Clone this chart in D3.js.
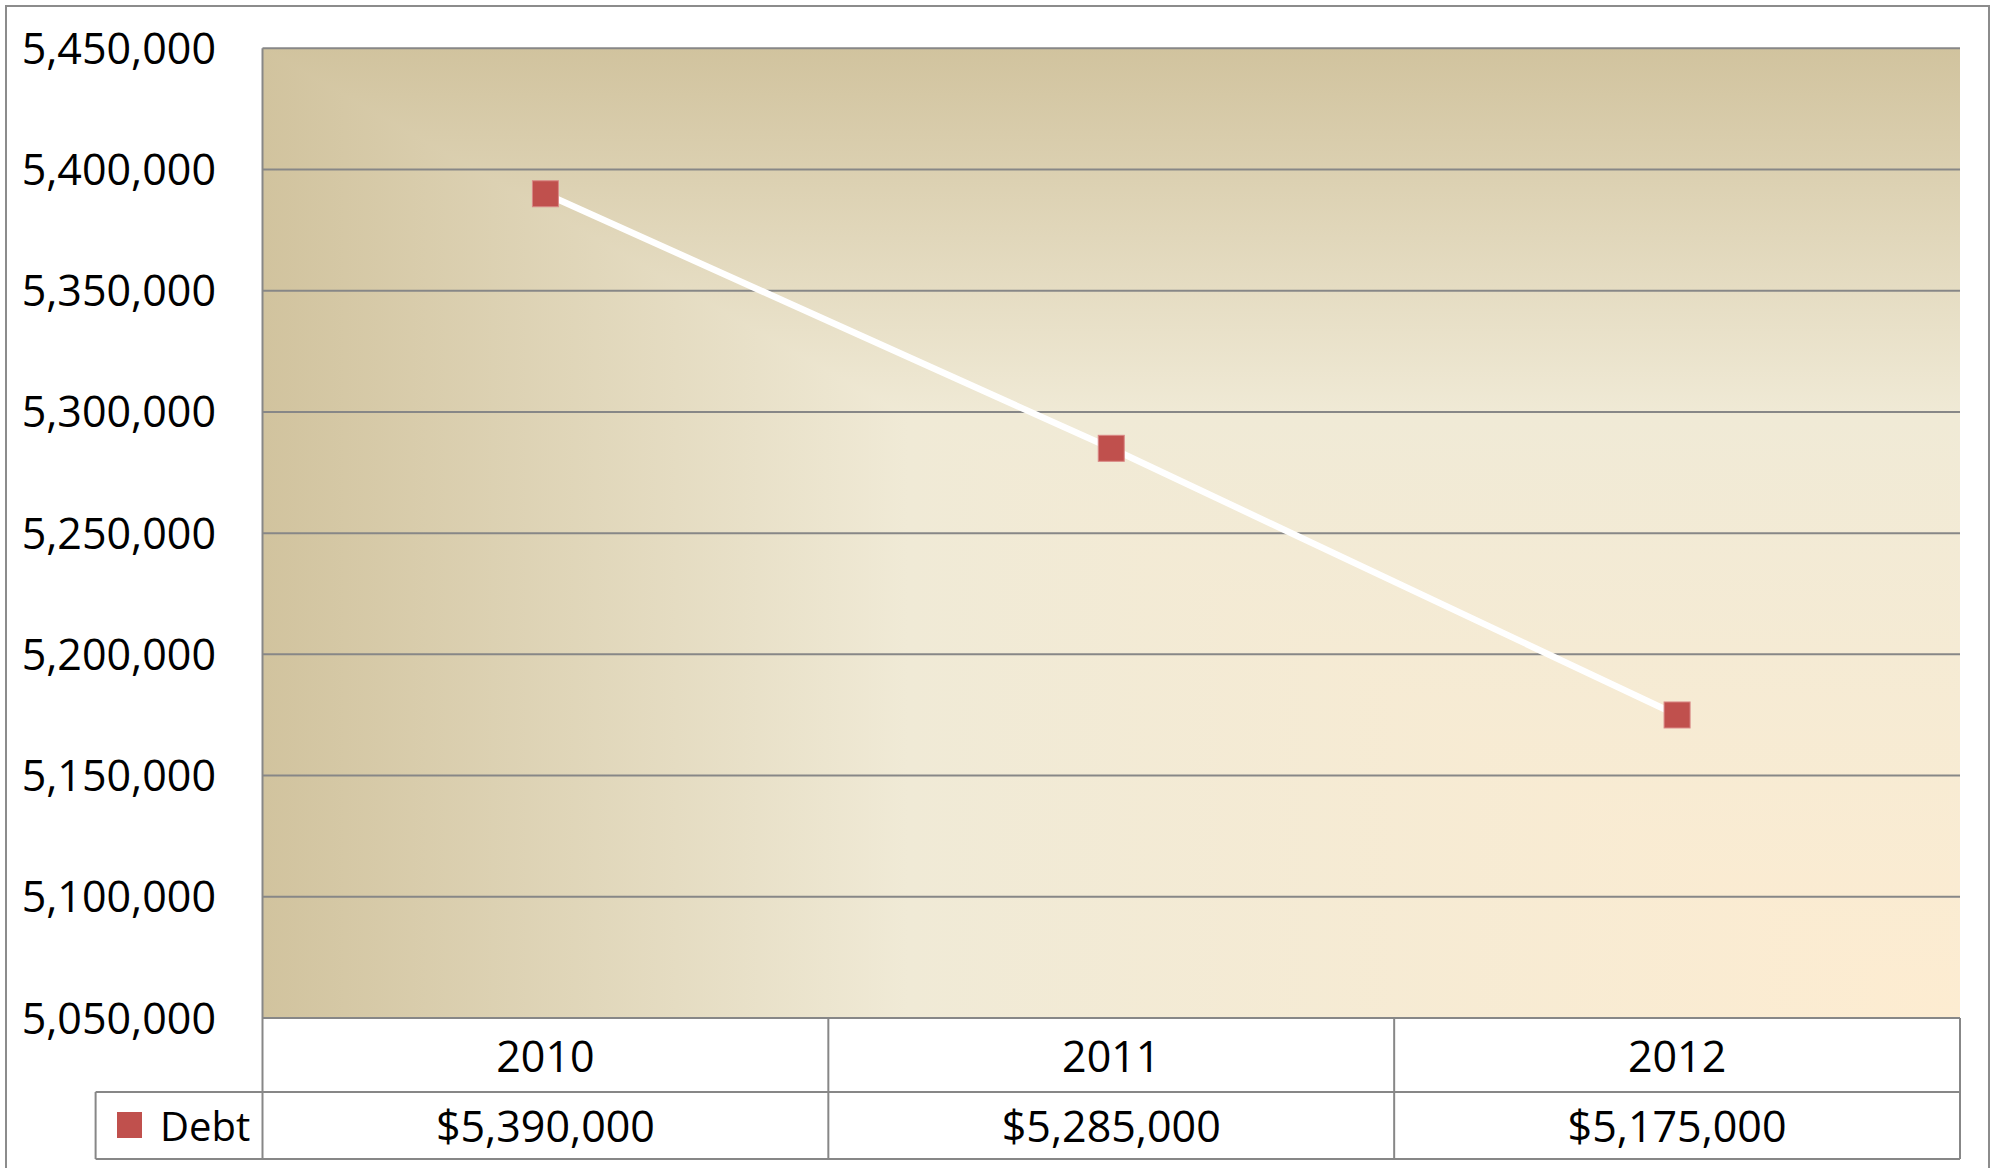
<!DOCTYPE html>
<html>
<head>
<meta charset="utf-8">
<script src="https://cdn.jsdelivr.net/npm/d3@7"></script>
<style>
  body { margin: 0; background: #fff; }
  text { font-family: "Open Sans", sans-serif; fill: #000; }
</style>
</head>
<body>
<div id="chart"></div>
<script>
// data
var years = ["2010", "2011", "2012"];
var debt = [5390000, 5285000, 5175000];
var debtLabels = ["$5,390,000", "$5,285,000", "$5,175,000"];
var yTicks = [5050000, 5100000, 5150000, 5200000, 5250000, 5300000, 5350000, 5400000, 5450000];
var seriesName = "Debt";

var W = 1998, H = 1168;
var plotLeft = 262.5, plotRight = 1960, plotTop = 48.3, plotBottom = 1018;
var row1 = 1092, row2 = 1159, legendLeft = 95.6;
var grey = "#878787";

var svg = d3.select("#chart").append("svg")
  .attr("width", W)
  .attr("height", H);

svg.append("rect").attr("width", W).attr("height", H).attr("fill", "#fff");

// outer frame
svg.append("rect")
  .attr("x", 6).attr("y", 6)
  .attr("width", 1983).attr("height", 1180)
  .attr("fill", "none")
  .attr("stroke", "#8c8c8c")
  .attr("stroke-width", 2);

var x = d3.scaleBand().domain(years).range([plotLeft, plotRight]).padding(0);
var y = d3.scaleLinear().domain([5050000, 5450000]).range([plotBottom, plotTop]);

// background: rectangle path gradient from bottom-right corner
var defs = svg.append("defs");
var stops = [[0, "#d1c39e"], [0.38, "#f0ead6"], [1, "#fdecd1"]];
var gx = defs.append("linearGradient").attr("id", "gx")
  .attr("x1", 0).attr("y1", 0).attr("x2", 1).attr("y2", 0);
var gy = defs.append("linearGradient").attr("id", "gy")
  .attr("x1", 0).attr("y1", 0).attr("x2", 0).attr("y2", 1);
stops.forEach(function (s) {
  gx.append("stop").attr("offset", s[0]).attr("stop-color", s[1]);
  gy.append("stop").attr("offset", s[0]).attr("stop-color", s[1]);
});
defs.append("clipPath").attr("id", "upper").append("polygon")
  .attr("points", [[plotLeft, plotTop], [plotRight, plotTop], [plotRight, plotBottom]].join(" "));

svg.append("rect")
  .attr("x", plotLeft).attr("y", plotTop)
  .attr("width", plotRight - plotLeft).attr("height", plotBottom - plotTop)
  .attr("fill", "url(#gx)");
svg.append("rect")
  .attr("x", plotLeft).attr("y", plotTop)
  .attr("width", plotRight - plotLeft).attr("height", plotBottom - plotTop)
  .attr("fill", "url(#gy)").attr("clip-path", "url(#upper)");

// gridlines
svg.append("g").selectAll("line")
  .data(yTicks)
  .enter().append("line")
  .attr("x1", plotLeft).attr("x2", plotRight)
  .attr("y1", function (d) { return y(d); })
  .attr("y2", function (d) { return y(d); })
  .attr("stroke", grey)
  .attr("stroke-width", 2);

// y labels
svg.append("g").selectAll("text")
  .data(yTicks)
  .enter().append("text")
  .attr("x", 216)
  .attr("y", function (d) { return y(d) - 1; })
  .attr("text-anchor", "end")
  .attr("dominant-baseline", "central")
  .style("font-size", "43px")
  .text(function (d) { return d3.format(",")(d); });

// data table lines
var tbl = svg.append("g").attr("stroke", grey).attr("stroke-width", 2);
tbl.append("line").attr("x1", plotLeft).attr("x2", plotLeft).attr("y1", plotTop).attr("y2", row2);
tbl.append("line").attr("x1", legendLeft).attr("x2", plotRight).attr("y1", row1).attr("y2", row1);
tbl.append("line").attr("x1", legendLeft).attr("x2", plotRight).attr("y1", row2).attr("y2", row2);
tbl.append("line").attr("x1", legendLeft).attr("x2", legendLeft).attr("y1", row1).attr("y2", row2);
tbl.selectAll(".col")
  .data(years)
  .enter().append("line")
  .attr("x1", function (d) { return x(d) + x.bandwidth(); })
  .attr("x2", function (d) { return x(d) + x.bandwidth(); })
  .attr("y1", plotBottom).attr("y2", row2);

// year labels
svg.append("g").selectAll("text")
  .data(years)
  .enter().append("text")
  .attr("x", function (d) { return x(d) + x.bandwidth() / 2; })
  .attr("y", (plotBottom + row1) / 2)
  .attr("text-anchor", "middle")
  .attr("dominant-baseline", "central")
  .style("font-size", "43px")
  .text(function (d) { return d; });

// value labels
svg.append("g").selectAll("text")
  .data(debtLabels)
  .enter().append("text")
  .attr("x", function (d, i) { return x(years[i]) + x.bandwidth() / 2; })
  .attr("y", (row1 + row2) / 2)
  .attr("text-anchor", "middle")
  .attr("dominant-baseline", "central")
  .style("font-size", "43px")
  .text(function (d) { return d; });

// legend key
svg.append("rect")
  .attr("x", 117).attr("y", 1112).attr("width", 25).attr("height", 26)
  .attr("fill", "#c0504d");
svg.append("text")
  .attr("x", 160).attr("y", (row1 + row2) / 2)
  .attr("dominant-baseline", "central")
  .style("font-size", "40px")
  .text(seriesName);

// line
var line = d3.line()
  .x(function (d, i) { return x(years[i]) + x.bandwidth() / 2; })
  .y(function (d) { return y(d); });
svg.append("path")
  .datum(debt)
  .attr("d", line)
  .attr("fill", "none")
  .attr("stroke", "#fff")
  .attr("stroke-width", 6.5);

// markers
svg.append("g").selectAll("rect")
  .data(debt)
  .enter().append("rect")
  .attr("x", function (d, i) { return x(years[i]) + x.bandwidth() / 2 - 13; })
  .attr("y", function (d) { return y(d) - 13; })
  .attr("width", 26).attr("height", 26)
  .attr("fill", "#c0504d")
  .attr("stroke", "#d98886")
  .attr("stroke-width", 1);
</script>
</body>
</html>
